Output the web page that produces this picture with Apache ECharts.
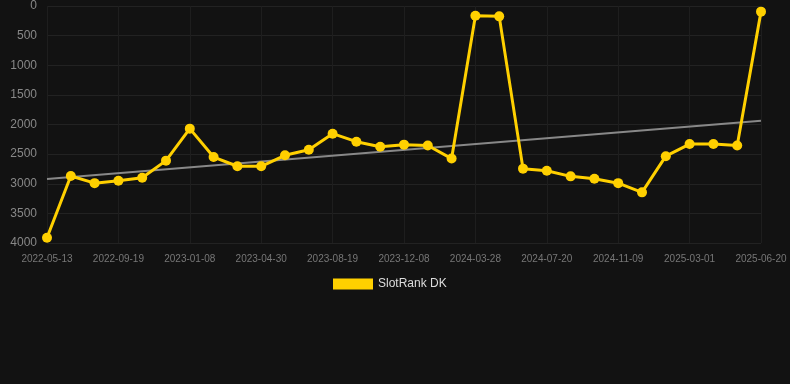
<!DOCTYPE html>
<html>
<head>
<meta charset="utf-8">
<script src="https://cdn.jsdelivr.net/npm/echarts@6/dist/echarts.min.js"></script>
<style>
  html, body { margin: 0; padding: 0; background: #121212; }
  #chart { width: 790px; height: 384px; }
</style>
</head>
<body>
<div id="chart"></div>
<script>
const dates = [
  '2022-05-13', '2022-06-25', '2022-08-07', '2022-09-19', '2022-10-26', '2022-12-02',
  '2023-01-08', '2023-02-14', '2023-03-23', '2023-04-30', '2023-06-06', '2023-07-13',
  '2023-08-19', '2023-09-25', '2023-11-01', '2023-12-08', '2024-01-14', '2024-02-20',
  '2024-03-28', '2024-05-04', '2024-06-12', '2024-07-20', '2024-08-26', '2024-10-02',
  '2024-11-09', '2024-12-16', '2025-01-23', '2025-03-01', '2025-04-07', '2025-05-14',
  '2025-06-20'
];

const rankDK = [
  3910, 2870, 2990, 2950, 2900, 2610, 2070, 2550, 2705, 2705, 2520,
  2425, 2155, 2290, 2375, 2340, 2355, 2575, 165, 175, 2745, 2780,
  2875, 2915, 2990, 3145, 2535, 2330, 2330, 2355, 95
];

// trend line end points (start / end of the period)
const trendValues = [2920, 1935];

const chart = echarts.init(document.getElementById('chart'));

chart.setOption({
  backgroundColor: '#121212',
  animation: false,
  grid: { left: 47, right: 29, top: 6, bottom: 141 },
  legend: {
    top: 273,
    left: 328,
    itemWidth: 40,
    itemHeight: 11,
    icon: 'rect',
    data: ['SlotRank DK'],
    textStyle: { color: '#dddddd', fontSize: 12, fontFamily: 'Liberation Sans, Arial, sans-serif' }
  },
  xAxis: {
    type: 'category',
    data: dates,
    boundaryGap: false,
    axisLine: { show: false },
    axisTick: { show: false },
    axisLabel: {
      interval: 2,
      color: '#777777',
      fontSize: 10,
      margin: 11,
      fontFamily: 'Liberation Sans, Arial, sans-serif'
    },
    splitLine: {
      show: true,
      interval: 2,
      lineStyle: { color: '#1e1e1e', width: 1 }
    }
  },
  yAxis: {
    type: 'value',
    inverse: true,
    min: 0,
    max: 4000,
    interval: 500,
    axisLine: { show: false },
    axisTick: { show: false },
    axisLabel: {
      color: '#888888',
      fontSize: 12,
      margin: 10,
      fontFamily: 'Liberation Sans, Arial, sans-serif',
      formatter: value => String(value)
    },
    splitLine: { lineStyle: { color: '#222222', width: 1 } }
  },
  series: [
    {
      name: 'Trend',
      type: 'line',
      data: [[dates[0], trendValues[0]], [dates[dates.length - 1], trendValues[1]]],
      symbol: 'none',
      lineStyle: { color: '#888888', width: 2 },
      z: 1,
      silent: true
    },
    {
      name: 'SlotRank DK',
      type: 'line',
      data: rankDK,
      symbol: 'circle',
      symbolSize: 10,
      itemStyle: { color: '#ffd000' },
      lineStyle: { color: '#ffd000', width: 3 },
      z: 2
    }
  ]
});
</script>
</body>
</html>
